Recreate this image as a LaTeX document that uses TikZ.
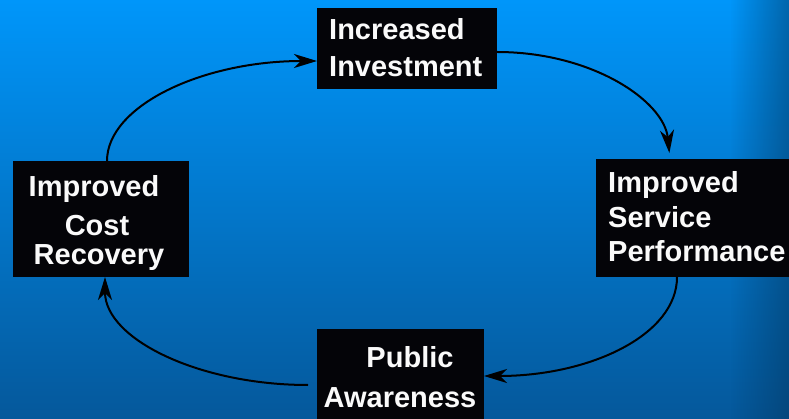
\documentclass[tikz,border=0pt]{standalone}
\usepackage{fontspec}
\setmainfont{Liberation Sans}
\usetikzlibrary{arrows.meta,fadings}
\definecolor{bgtop}{RGB}{0,150,250}
\definecolor{bgbot}{RGB}{5,88,155}
\definecolor{boxfill}{RGB}{4,4,8}
\definecolor{labelcol}{RGB}{250,250,250}
\tikzset{
  stagebox/.style={draw=none, fill=boxfill, inner sep=0pt, outer sep=0pt},
  stagetext/.style={text=labelcol, inner sep=0pt, anchor=base west,
    font=\fontsize{29}{35}\selectfont\bfseries},
  cycleflow/.style={draw=black, line width=2pt,
    -{Stealth[length=23pt, width=14pt, inset=7pt]}},
}
\begin{document}
\begin{tikzpicture}[x=1pt, y=-1pt]
  % backdrop
  \clip (0,0) rectangle (789,419);
  \shade[top color=bgtop, bottom color=bgbot] (0,0) rectangle (789,419);
  \fill[bgbot!60!black, path fading=west, fill opacity=0.5]
    (730,0) rectangle (789,419);

  % stages of the cycle
  \node[stagebox, minimum width=180pt, minimum height=81pt]  (inv)  at (407,48.5)  {};
  \node[stagebox, minimum width=214pt, minimum height=118pt] (svc)  at (703,218)   {};
  \node[stagebox, minimum width=167pt, minimum height=101pt] (pub)  at (400.5,379.5) {};
  \node[stagebox, minimum width=176pt, minimum height=116pt] (cost) at (101,219)   {};

  % labels
  \node[stagetext] (invA) at (329,40) {Increased};
  \node[stagetext] (invB) at (329,77) {Investment};

  \node[stagetext] (svcA) at (608,193) {Improved};
  \node[stagetext] (svcB) at (608,228) {Service};
  \node[stagetext] (svcC) at (608,262) {Performance};

  \node[stagetext, anchor=base] (pubA) at (410,367) {Public};
  \node[stagetext, anchor=base] (pubB) at (400,407) {Awareness};

  \node[stagetext, anchor=base] (costA) at (94,197) {Improved};
  \node[stagetext, anchor=base] (costB) at (97,236) {Cost};
  \node[stagetext, anchor=base] (costC) at (99,265) {Recovery};

  % connectors
  \draw[cycleflow] ([xshift=6pt]cost.north)
    .. controls +(0,-55) and +(-115,0) .. ([yshift=-12.5pt]inv.west);
  \draw[cycleflow, shorten >=6pt] ([yshift=-3.5pt]inv.east)
    .. controls +(95,0) and +(-6,-58) .. ([xshift=-33pt]svc.north);
  \draw[cycleflow] ([xshift=-26pt]svc.south)
    .. controls +(0,58) and +(106,0) .. ([yshift=3.5pt]pub.east);
  \draw[cycleflow, shorten <=9pt] ([yshift=-5.5pt]pub.west)
    .. controls +(-118,0) and +(0,62) .. ([xshift=4pt]cost.south);
\end{tikzpicture}
\end{document}
